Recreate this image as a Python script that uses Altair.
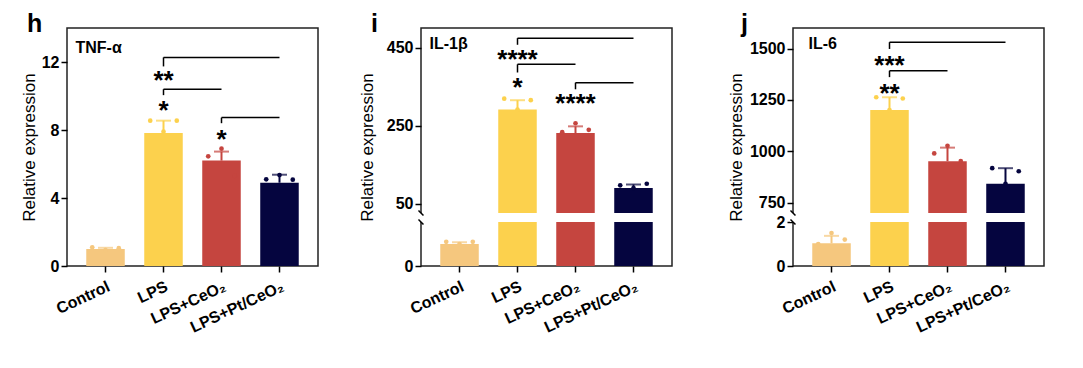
import altair as alt
import pandas as pd

FONT = "Liberation Sans"

groups = ["Control", "LPS", "LPS+CeO₂", "LPS+Pt/CeO₂"]
colors = ["#F5C77E", "#FCD14D", "#C5453F", "#05053F"]
reps = ["a", "b", "c"]

# ---- TNF-alpha (panel h)
tnf_mean = [1.0, 7.83, 6.2, 4.9]
tnf_sd = [0.07, 0.72, 0.53, 0.47]
tnf_dots = [[1.1, 0.93, 1.05], [8.55, 7.9, 8.55], [6.45, 6.9, 5.3], [5.1, 5.35, 5.08]]
tnf_from = ["LPS", "LPS", "LPS+CeO₂"]
tnf_to = ["LPS+Pt/CeO₂", "LPS+CeO₂", "LPS+Pt/CeO₂"]
tnf_level = [12.27, 10.4, 8.73]
tnf_drop = [11.74, 10.05, 8.4]
tnf_stars = ["**", "*", "*"]
tnf_star_y = [11.27, 9.54, 7.83]

# ---- IL-1beta (panel i)
il1_mean = [1.0, 291, 231, 90]
il1_sd = [0.08, 24, 17, 9]
il1_dots = [[1.1, 1.0, 1.1], [319, 291, 315], [233, 256, 239], [97, 90, 101]]
il1_from = ["LPS", "LPS", "LPS+CeO₂"]
il1_to = ["LPS+Pt/CeO₂", "LPS+CeO₂", "LPS+Pt/CeO₂"]
il1_level = [474, 407, 360]
il1_drop = [457, 386, 343]
il1_stars = ["****", "*", "****"]
il1_star_y = [437, 363, 322]

# ---- IL-6 (panel j)
il6_mean = [1.03, 1201, 952, 842]
il6_sd = [0.34, 62, 66, 76]
il6_dots = [[1.0, 1.5, 1.2], [1263, 1201, 1257], [990, 1027, 953], [918, 842, 903]]
il6_from = ["LPS", "LPS"]
il6_to = ["LPS+Pt/CeO₂", "LPS+CeO₂"]
il6_level = [1531, 1392]
il6_drop = [1498, 1361]
il6_stars = ["***", "**"]
il6_star_y = [1450, 1314]

W, H = 251, 238

xscale = alt.Scale(domain=groups, paddingInner=0.336, paddingOuter=0.332)
cscale = alt.Scale(domain=groups, range=colors)


def panel(letter, letter_dx, gene, gene_y, gene_dx, mean, sd, dots, b_from, b_to,
          b_level, b_drop, b_stars, b_star_y, yscale_kw, tick_values, title_pad,
          minor=False, gap=None):
    bars = pd.DataFrame({"group": groups, "mean": mean,
                         "top": [m + s for m, s in zip(mean, sd)]})
    pts = pd.DataFrame([{"group": g, "rep": r, "v": v}
                        for g, vals in zip(groups, dots) for r, v in zip(reps, vals)])
    br = pd.DataFrame({"g1": b_from, "g2": b_to, "level": b_level, "drop": b_drop,
                       "stars": b_stars, "sy": b_star_y})
    lab = pd.DataFrame({"group": ["Control"], "y": [gene_y], "t": [gene]})
    let = pd.DataFrame({"t": [letter]})

    axis_kw = dict(title="Relative expression", titleFont=FONT, titleFontSize=17,
                   titleFontWeight="normal", titleColor="black", titlePadding=title_pad,
                   labelFont=FONT, labelFontSize=16, labelFontWeight="bold",
                   labelColor="black", labelPadding=2, tickColor="black", tickWidth=1.5,
                   domain=False, grid=False, values=tick_values, format="d")
    if minor:
        axis_kw["labelExpr"] = "datum.value % 4 == 0 ? datum.label : ''"
        axis_kw["tickSize"] = {"condition": {"test": "datum.value % 4 == 0", "value": 6},
                               "value": 3}
    else:
        axis_kw["tickSize"] = 6
    yscale = alt.Scale(nice=False, zero=False, **yscale_kw)

    x_enc = alt.X("group:N", scale=xscale, sort=groups,
                  axis=alt.Axis(title=None, labelAngle=335, labelAlign="right",
                                labelBaseline="top", labelFont=FONT, labelFontSize=16,
                                labelFontWeight="bold", labelColor="black",
                                labelPadding=6, labelLimit=300, tickColor="black",
                                tickWidth=1.5, tickSize=6, domain=False, grid=False))
    col = alt.Color("group:N", scale=cscale, legend=None)

    base = alt.Chart(bars)
    layers = [base.mark_bar().encode(
        x=x_enc, y=alt.Y("mean:Q", scale=yscale, axis=alt.Axis(**axis_kw)), color=col)]
    if gap is not None:
        gdf = pd.DataFrame({"lo": [gap[0]], "hi": [gap[1]]})
        layers.append(alt.Chart(gdf).mark_rect(color="white").encode(
            x=alt.value(-3), x2=alt.value(W - 1), y="lo:Q", y2="hi:Q"))
        bdf = pd.DataFrame({"b": list(gap)})
        layers.append(alt.Chart(bdf).mark_point(
            shape="M -1 -1 L 1 1", size=25, filled=False, color="black",
            strokeWidth=1.5, opacity=1).encode(x=alt.value(0), y="b:Q"))
    layers += [
        base.mark_rule(strokeWidth=2).encode(x="group:N", y="mean:Q", y2="top:Q",
                                             color=col),
        base.mark_tick(thickness=2, size=15).encode(x="group:N", y="top:Q", color=col),
        alt.Chart(pts).mark_circle(size=22, opacity=1).encode(
            x="group:N",
            xOffset=alt.XOffset("rep:N", sort=reps,
                                scale=alt.Scale(domain=reps, paddingOuter=0.45)),
            y="v:Q", color=col),
        alt.Chart(br).mark_rule(color="black", strokeWidth=1.5).encode(
            x="g1:N", x2="g2:N", y="level:Q"),
        alt.Chart(br).mark_rule(color="black", strokeWidth=1.5).encode(
            x="g1:N", y="level:Q", y2="drop:Q"),
        alt.Chart(br).mark_text(font=FONT, fontSize=26, fontWeight="bold",
                                color="black", baseline="middle", dy=7).encode(
            x="g1:N", y="sy:Q", text="stars:N"),
        alt.Chart(lab).mark_text(font=FONT, fontSize=16, fontWeight="bold",
                                 color="black", align="left", baseline="middle",
                                 dx=gene_dx).encode(x="group:N", y="y:Q", text="t:N"),
        alt.Chart(let).mark_text(font=FONT, fontSize=25, fontWeight="bold",
                                 color="black", align="left",
                                 baseline="alphabetic").encode(
            x=alt.value(letter_dx), y=alt.value(4), text="t:N"),
    ]
    return alt.layer(*layers).resolve_scale(xOffset="independent").properties(
        width=W, height=H)


h = panel("h", -40, "TNF-α", 12.8, -30, tnf_mean, tnf_sd, tnf_dots, tnf_from, tnf_to,
          tnf_level, tnf_drop, tnf_stars, tnf_star_y,
          dict(domain=[0, 14]), [0, 2, 4, 6, 8, 10, 12], 3, minor=True)
i = panel("i", -50, "IL-1β", 459, -30, il1_mean, il1_sd, il1_dots, il1_from, il1_to,
          il1_level, il1_drop, il1_stars, il1_star_y,
          dict(domain=[0, 2, 26, 500], range=[H, 194, 185, 0]),
          [0, 2, 50, 150, 250, 350, 450], 10, gap=(2, 26))
j = panel("j", -52, "IL-6", 1524, -23, il6_mean, il6_sd, il6_dots, il6_from, il6_to,
          il6_level, il6_drop, il6_stars, il6_star_y,
          dict(domain=[0, 2, 700, 1600], range=[H, 194, 185, 0]),
          [0, 2, 750, 1000, 1250, 1500], 4, gap=(2, 700))

chart = alt.hconcat(h, alt.hconcat(i, j, spacing=53), spacing=38).properties(
    padding={"left": 11, "top": 3, "right": 5, "bottom": 5}, background="white"
).configure_view(stroke="#222222", strokeWidth=1.5)

chart.save("out.html", embed_options={"renderer": "svg", "actions": False})
